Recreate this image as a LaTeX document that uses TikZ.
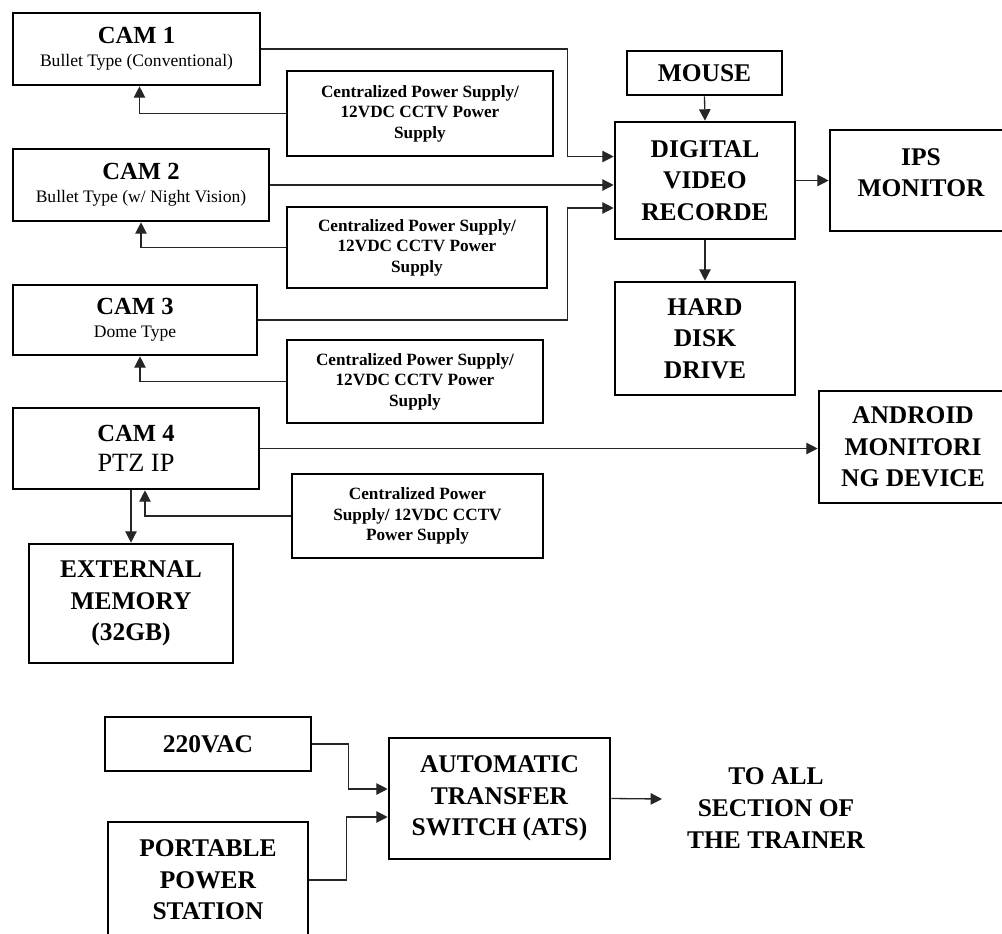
\documentclass[tikz,border=0pt]{standalone}
\usepackage{fontspec}
\setmainfont{Liberation Serif}
\usetikzlibrary{arrows.meta,calc}

\tikzset{
    blk/.style={draw, line width=1.5pt, align=center, inner sep=0pt,
        font=\bfseries\fontsize{14.5}{18}\selectfont},
    cambox/.style={draw, line width=1.5pt, align=center, inner sep=0pt,
        font=\bfseries\fontsize{14}{13}\selectfont},
    psu/.style={draw, line width=1.5pt, align=center, inner sep=0pt,
        font=\bfseries\fontsize{9.8}{11.6}\selectfont},
    arr/.style={-{Triangle[length=6.5pt,width=6.5pt]}, line width=0.75pt, black!85},
}
\newcommand{\subtxt}[1]{{\mdseries\fontsize{10}{12}\selectfont #1}}

\begin{document}
\begin{tikzpicture}[x=0.02cm, y=-0.02cm]
        \useasboundingbox (0,0) rectangle (1002,934);

        % cameras
        \node[cambox, minimum width=4.94cm, minimum height=1.44cm] (cam1) at (136.5,49) {CAM 1\\\subtxt{Bullet Type (Conventional)}};
        \node[cambox, minimum width=5.12cm, minimum height=1.44cm] (cam2) at (141,185) {CAM 2\\\subtxt{Bullet Type (w/ Night Vision)}};
        \node[cambox, minimum width=4.88cm, minimum height=1.40cm] (cam3) at (135,320) {CAM 3\\\subtxt{Dome Type}};
        \node[cambox, minimum width=4.92cm, minimum height=1.62cm] (cam4) at (136,448.5) {CAM 4\\[4pt]{\mdseries\fontsize{15}{17}\selectfont PTZ IP}};

        % power supplies
        \node[psu, minimum width=5.32cm, minimum height=1.70cm] (ps1) at (420,113.5) {Centralized Power Supply/\\12VDC CCTV Power\\Supply};
        \node[psu, minimum width=5.20cm, minimum height=1.62cm] (ps2) at (417,247.5) {Centralized Power Supply/\\12VDC CCTV Power\\Supply};
        \node[psu, minimum width=5.12cm, minimum height=1.66cm] (ps3) at (415,381.5) {Centralized Power Supply/\\12VDC CCTV Power\\Supply};
        \node[psu, minimum width=5.02cm, minimum height=1.68cm] (ps4) at (417.5,516) {Centralized Power\\Supply/ 12VDC CCTV\\Power Supply};

        \node[blk, minimum width=4.08cm, minimum height=2.38cm] (ext) at (131,603.5) {EXTERNAL\\MEMORY\\(32GB)};

        % recorder side
        \node[blk, minimum width=3.10cm, minimum height=0.88cm] (mouse) at (704.5,73) {MOUSE};
        \node[blk, minimum width=3.60cm, minimum height=2.34cm] (dvr) at (705,180.5) {DIGITAL\\VIDEO\\RECORDE};
        \node[blk, minimum width=3.64cm, minimum height=2.02cm, text depth=9pt] (ips) at (921,180.5) {IPS\\MONITOR};
        \node[blk, minimum width=3.60cm, minimum height=2.26cm] (hdd) at (705,338.5) {HARD\\DISK\\DRIVE};
        \node[blk, minimum width=3.76cm, minimum height=2.24cm] (android) at (913,447) {ANDROID\\MONITORI\\NG DEVICE};

        % power section
        \node[blk, minimum width=4.12cm, minimum height=1.08cm] (v220) at (208,744) {220VAC};
        \node[blk, minimum width=4.00cm, minimum height=2.32cm] (portable) at (208,880) {PORTABLE\\POWER\\STATION};
        \node[blk, minimum width=4.42cm, minimum height=2.42cm] (ats) at (499.5,798.5) {AUTOMATIC\\TRANSFER\\SWITCH (ATS)};
        \node[align=center, font=\bfseries\fontsize{14.5}{18}\selectfont] (toall) at (776,808) {TO ALL\\SECTION OF\\THE TRAINER};

        \coordinate (in1) at ($(dvr.west)+(0,-24)$);
        \coordinate (in3) at ($(dvr.west)+(0,27.5)$);
        \coordinate (acin) at ($(ats.west)+(0,-9.5)$);
        \coordinate (ppin) at ($(ats.west)+(0,18.5)$);
        \coordinate (feed) at (662,799);

        % camera lines
        \draw[arr] (cam1.east) -| ($(in1)+(-46,0)$) -- (in1);
        \draw[arr] (cam2.east) -- (cam2.east -| dvr.west);
        \draw[arr] (cam3.east) -| ($(in3)+(-46,0)$) -- (in3);
        \draw[arr] (cam4.east) -- (cam4.east -| android.west);
        \draw[arr] (ps1.west) -| ($(cam1.south)+(3,0)$);
        \draw[arr] (ps2.west) -| (cam2.south);
        \draw[arr] (ps3.west) -| ($(cam3.south)+(5,0)$);
        \draw[arr] (ps4.west) -| ($(cam4.south)+(9,0)$);
        \draw[arr] (cam4.south -| ext.north) -- (ext.north);

        \draw[arr] (mouse.south) -- (dvr.north);
        \draw[arr] (dvr.east) -- (ips.west);
        \draw[arr] (dvr.south) -- (hdd.north);

        % power lines
        \draw[arr] (v220.east) -| ($(acin)+(-39,0)$) -- (acin);
        \draw[arr] (portable.east) -| ($(ppin)+(-41,0)$) -- (ppin);
        \draw[arr] (ats.east) -- (feed);
\end{tikzpicture}
\end{document}
